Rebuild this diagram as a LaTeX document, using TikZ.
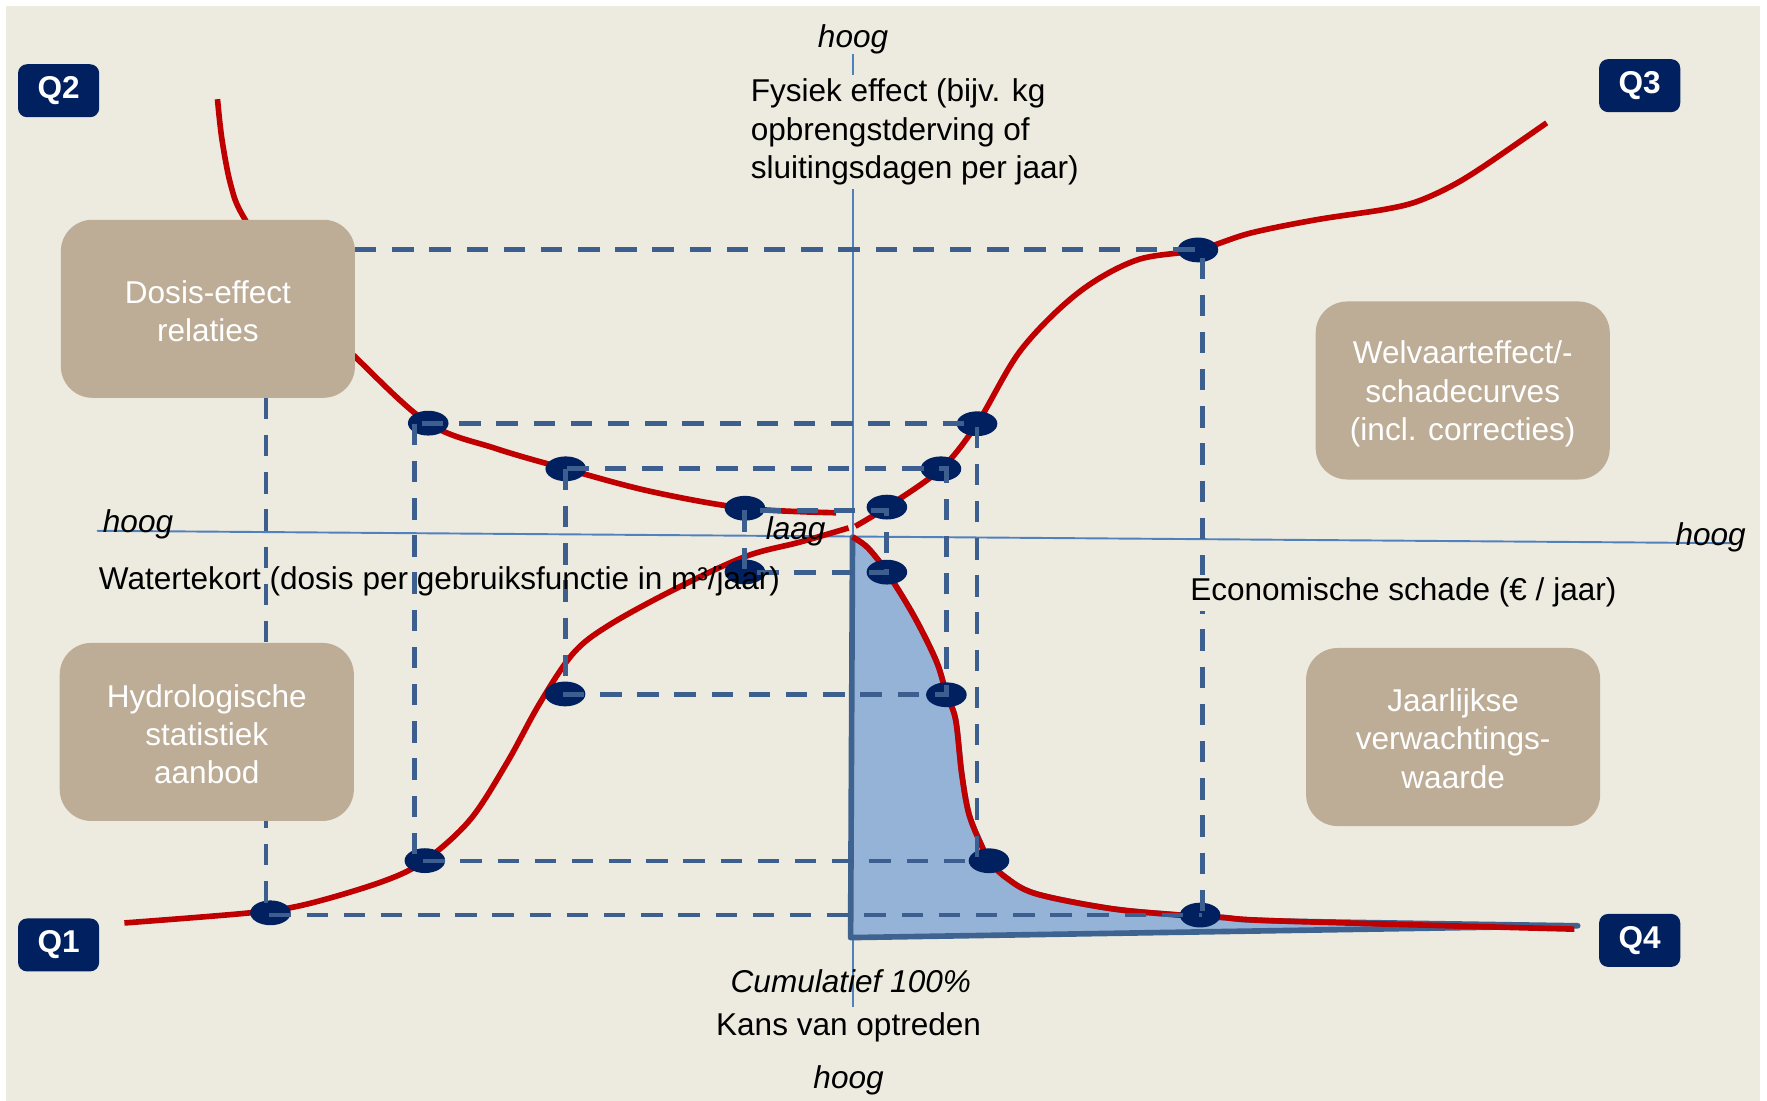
\documentclass[tikz,border=0pt]{standalone}
\usepackage{fontspec}
\setmainfont{Liberation Sans}
\usetikzlibrary{shapes.geometric}
\definecolor{bgc}{RGB}{237,235,224}
\definecolor{boxc}{RGB}{189,173,151}
\definecolor{navy}{RGB}{0,32,96}
\definecolor{redc}{RGB}{192,0,0}
\definecolor{axisc}{RGB}{79,129,189}
\definecolor{dashc}{RGB}{61,95,143}
\definecolor{areac}{RGB}{149,179,215}
\definecolor{areastroke}{RGB}{63,99,145}
\begin{document}
\begin{tikzpicture}[x=1pt,y=-1pt,
  qbox/.style={fill=navy, text=white, rounded corners=8pt, minimum width=72pt, minimum height=47pt, inner sep=0pt, font=\fontsize{28}{32}\selectfont\bfseries},
  infobox/.style={fill=boxc, text=white, rounded corners=28pt, minimum width=261pt, minimum height=158pt, inner sep=0pt, align=center, font=\fontsize{28}{34}\selectfont},
  boxtext/.style={text=white, inner sep=0pt, align=center, font=\fontsize{28}{34}\selectfont},
  pnt/.style={ellipse, fill=navy, minimum width=36pt, minimum height=22pt, inner sep=0pt},
  guide/.style={dashc, line width=4.3pt, dash pattern=on 19pt off 14pt},
  curve/.style={redc, line width=5pt},
  axisline/.style={axisc, line width=1.7pt},
  txt/.style={inner sep=0pt, font=\fontsize{28}{34.5}\selectfont},
  itxt/.style={inner sep=0pt, font=\fontsize{28}{34.5}\selectfont\itshape}
]
\useasboundingbox (0,0) rectangle (1568,977);
\fill[white] (0,0) rectangle (1568,977);
\fill[bgc] (5,5) rectangle (1562,977);

% axes
\draw[axisline] (757,48) -- (757,930);
\draw[axisline] (86,471) -- (1535,482);

% probability area (Q4)
\filldraw[fill=areac, draw=areastroke, line width=5pt, line join=round]
  (754.8,832) -- plot[smooth, tension=0.55] coordinates {(756.5,476.5) (770,486) (787,507.7) (811,546.6) (831,587) (840,616.5) (848,638.6) (853.4,686.4) (860,723) (872,752.5) (877.6,763.8) (892.4,778.5) (919,793) (984,806) (1041.7,811.6) (1083,814) (1137.4,817.3) (1400,821.5)} -- cycle;

% red curves
\draw[curve] plot[smooth, tension=0.55] coordinates {(193,88) (197,124) (205,165) (217,194) (262,262) (315,316.5) (380,375.5) (440,398) (502,416) (577,436) (661,451) (742,455)};
\draw[curve] plot[smooth, tension=0.55] coordinates {(110.4,819) (222,810) (271.5,802.5) (339.6,782.2) (377,763.7) (417,727.6) (449.6,677.3) (479,624) (508.7,579.7) (540,555) (597.5,523.5) (661,494) (710,481) (753,468.5)};
\draw[curve] plot[smooth, tension=0.55] coordinates {(759,467) (787,450) (835,416) (867,376) (906,310.5) (956.5,260) (1008,231) (1063,221.8) (1109,207) (1168,195) (1227.5,186) (1257,179) (1287,165.6) (1316,148) (1372.5,109)};
\draw[curve] plot[smooth, tension=0.55] coordinates {(756.5,476.5) (770,486) (787,507.7) (811,546.6) (831,587) (840,616.5) (848,638.6) (853.4,686.4) (860,723) (872,752.5) (877.6,763.8) (892.4,778.5) (919,793) (984,806) (1041.7,811.6) (1083,814) (1137.4,817.3) (1397,824.5)};

% points
\node[pnt] (e21) at (380,375.5) {};
\node[pnt] (e22) at (502,416) {};
\node[pnt] (e23) at (661,451) {};
\node[pnt] (e31) at (1063,221.8) {};
\node[pnt] (e32) at (867,376) {};
\node[pnt] (e33) at (835,416) {};
\node[pnt] (e34) at (787,450) {};
\node[pnt] (e41) at (1065,812) {};
\node[pnt] (e42) at (877.6,763.8) {};
\node[pnt] (e43) at (839.8,616.5) {};
\node[pnt] (e44) at (787,507.7) {};
\node[pnt] (e11) at (240,810) {};
\node[pnt] (e12) at (377,763.7) {};
\node[pnt] (e13) at (501.4,615.8) {};
\node[pnt] (e14) at (661,507.5) {};

% guide corners
\coordinate (g1a) at (315,221.5);
\coordinate (g1b) at (1067,221.5);
\coordinate (g1c) at (1067,812);
\coordinate (g1d) at (236,812);
\coordinate (g1e) at (236,353);
\coordinate (g2a) at (367.5,376);
\coordinate (g2b) at (867,764);
\coordinate (g3a) at (501.5,416);
\coordinate (g3b) at (840,616);
\coordinate (g4a) at (661,453);
\coordinate (g4b) at (787,508);

% dashed guides
\draw[guide] (g1a) -- (g1b) -- (g1c);
\draw[guide] (g1e) -- (g1d) -- (g1c);
\draw[guide] (g2a) rectangle (g2b);
\draw[guide] (g3a) rectangle (g3b);
\draw[guide] (g4a) rectangle (g4b);

% info boxes
\node[infobox] (dosis) at (184.5,274) {};
\node[boxtext] (dosisT) at (184.5,276) {Dosis-effect\\relaties};
\node[infobox] (welvaart) at (1298,346.5) {};
\node[boxtext] (welvaartT) at (1298,349.5) {Welvaarteffect/-\\schadecurves\\(incl. correcties)};
\node[infobox] (hydro) at (183.5,649.5) {};
\node[boxtext] (hydroT) at (183.5,651.5) {Hydrologische\\statistiek\\aanbod};
\node[infobox] (jaarl) at (1289.5,654) {};
\node[boxtext] (jaarlT) at (1289.5,655.5) {Jaarlijkse\\verwachtings-\\waarde};

% quadrant labels
\node[qbox] (q2) at (52,80.5) {Q2};
\node[qbox] (q3) at (1455,76) {Q3};
\node[qbox] (q1) at (52,838.5) {Q1};
\node[qbox] (q4) at (1455,834.5) {Q4};

% texts
\node[itxt] (hoogT) at (757,35) {hoog};
\node[txt, fill=bgc, align=left, anchor=west, inner xsep=3pt, inner ysep=3pt] (fysiek) at (663,117) {Fysiek effect (bijv. kg\\opbrengstderving of\\sluitingsdagen per jaar)};
\node[itxt] (hoogL) at (122.5,465.5) {hoog};
\node[itxt] (hoogR) at (1518,477) {hoog};
\node[itxt] (laag) at (706,471.5) {laag};
\node[txt, anchor=west] (water) at (87.6,515.5) {Watertekort (dosis per gebruiksfunctie in m³/jaar)};
\node[txt, anchor=west, fill=bgc, inner sep=3pt] (econ) at (1053,526) {Economische schade (€ / jaar)};
\node[itxt] (cumul) at (755,871) {Cumulatief 100\%};
\node[txt, fill=bgc, text height=21pt, text depth=7pt, inner ysep=4pt, inner xsep=3pt] (kans) at (753,912) {Kans van optreden};
\node[itxt] (hoogB) at (753,958.5) {hoog};
\end{tikzpicture}
\end{document}
